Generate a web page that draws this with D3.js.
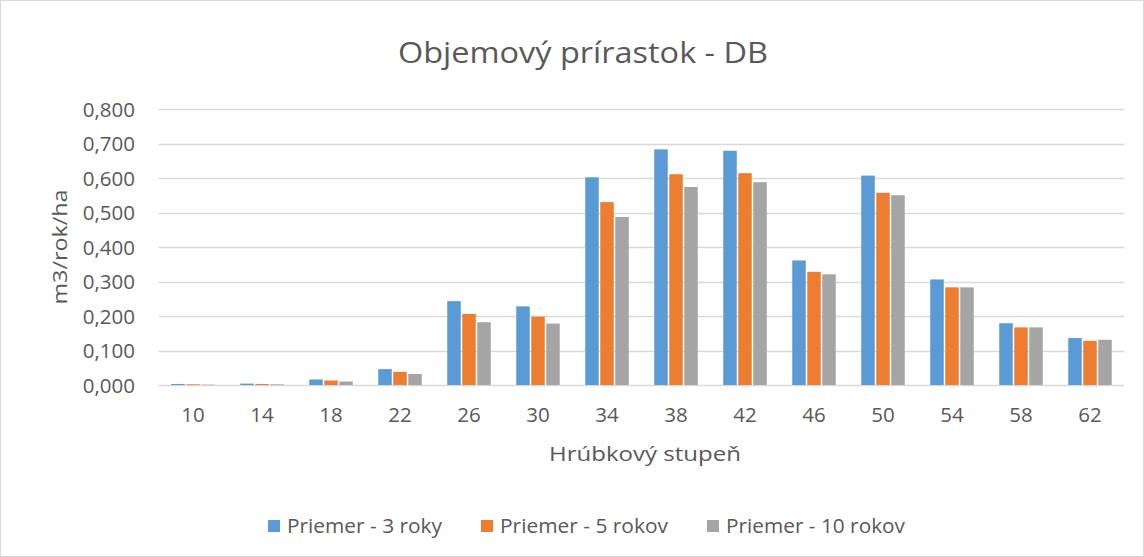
<!DOCTYPE html>
<html><head><meta charset="utf-8">
<script src="https://cdn.jsdelivr.net/npm/d3@7"></script>
<style>body{margin:0;background:#fff}svg{display:block}text{font-family:"Open Sans",sans-serif;fill:#595959}</style>
</head><body><svg id="c" width="1144" height="557"></svg>
<script>
const categories = ["10","14","18","22","26","30","34","38","42","46","50","54","58","62"];
const seriesNames = ["Priemer - 3 roky","Priemer - 5 rokov","Priemer - 10 rokov"];
const s3 = [0.003,0.004,0.016,0.046,0.243,0.228,0.602,0.683,0.679,0.361,0.607,0.306,0.179,0.136];
const s5 = [0.002,0.003,0.013,0.038,0.206,0.198,0.530,0.611,0.614,0.328,0.557,0.283,0.167,0.128];
const s10 = [0.001,0.002,0.010,0.032,0.182,0.178,0.487,0.574,0.588,0.321,0.550,0.283,0.167,0.131];
const yTicks = [0,0.1,0.2,0.3,0.4,0.5,0.6,0.7,0.8];
const colors = ["#5B9BD5","#ED7D31","#A5A5A5"];
const series = [s3,s5,s10];

const svg = d3.select("#c");
svg.append("rect").attr("x",0.5).attr("y",0.5).attr("width",1143).attr("height",556).attr("fill","#fff").attr("stroke","#D9D9D9");

const L=158.5,R=1124.5,T=109,B=385;
const x = d3.scaleBand().domain(categories).range([L,R]);
const y = d3.scaleLinear().domain([0,0.8]).range([B,T]);
const fmt = v => d3.format(".3f")(v).replace(".",",");

svg.append("g").selectAll("line").data(yTicks).join("line")
 .attr("x1",L).attr("x2",R).attr("y1",d=>Math.round(y(d))+0.5).attr("y2",d=>Math.round(y(d))+0.5)
 .attr("stroke","#D9D9D9").attr("stroke-width",1.3);

const yAxis = d3.axisLeft(y).tickValues(yTicks).tickFormat(fmt).tickSize(0).tickPadding(0);
const ya = svg.append("g").attr("transform",`translate(135,0)`).call(yAxis);
ya.select(".domain").remove();
ya.selectAll("text").attr("font-size",20.5).style("font-family","'Open Sans',sans-serif").attr("fill","#595959").attr("dy","0.36em");

const xAxis = d3.axisBottom(x).tickSize(0).tickPadding(0);
const xa = svg.append("g").attr("transform",`translate(0,${B+22})`).call(xAxis);
xa.select(".domain").remove();
xa.selectAll("text").attr("font-size",20.5).style("font-family","'Open Sans',sans-serif").attr("fill","#595959").attr("dy","0.71em");

const bw = 13.5, step = 15;
series.forEach((s,i)=>{
  svg.append("g").selectAll("rect").data(s).join("rect")
   .attr("x",(d,j)=>x(categories[j])+x.bandwidth()/2+(i-1)*step-bw/2)
   .attr("y",d=>y(d)).attr("width",bw).attr("height",d=>B-y(d))
   .attr("fill",colors[i]);
});

svg.append("text").attr("x",583).attr("y",63).attr("text-anchor","middle").attr("font-size",29)
 .attr("textLength",370).attr("lengthAdjust","spacingAndGlyphs").text("Objemový prírastok - DB");
svg.append("text").attr("transform","translate(67,247) rotate(-90)").attr("text-anchor","middle").attr("font-size",20)
 .attr("textLength",115).attr("lengthAdjust","spacingAndGlyphs").text("m3/rok/ha");
svg.append("text").attr("x",645).attr("y",461).attr("text-anchor","middle").attr("font-size",20)
 .attr("textLength",192).attr("lengthAdjust","spacingAndGlyphs").text("Hrúbkový stupeň");

const legX = [268,481,707], legW=[155,168,179], legT=[287,500,726];
seriesNames.forEach((n,i)=>{
  svg.append("rect").attr("x",legX[i]).attr("y",520).attr("width",12).attr("height",12).attr("fill",colors[i]);
  svg.append("text").attr("x",legT[i]).attr("y",533).attr("font-size",20.5)
   .attr("textLength",legW[i]).attr("lengthAdjust","spacingAndGlyphs").text(n);
});
</script></body></html>
